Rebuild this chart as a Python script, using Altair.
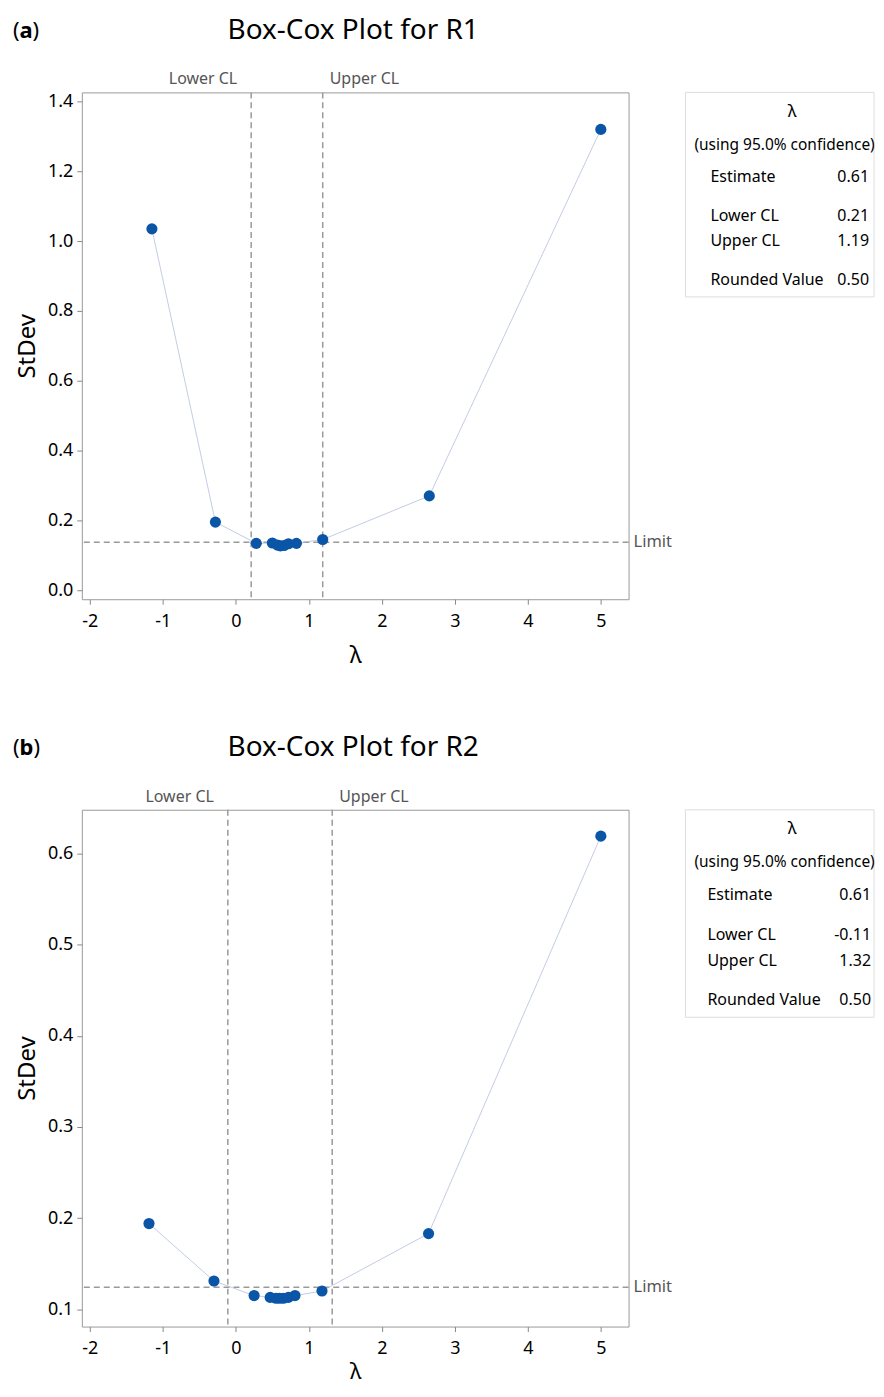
import altair as alt
import pandas as pd

# ---- data ----
lam_a = [-1.15, -0.28, 0.28, 0.50, 0.57, 0.61, 0.66, 0.72, 0.83, 1.19, 2.65, 5.0]
sd_a = [1.035, 0.195, 0.134, 0.135, 0.129, 0.127, 0.128, 0.133, 0.134, 0.145, 0.27, 1.32]
lam_b = [-1.19, -0.30, 0.25, 0.47, 0.55, 0.60, 0.65, 0.72, 0.81, 1.18, 2.64, 5.0]
sd_b = [0.194, 0.131, 0.115, 0.113, 0.112, 0.112, 0.112, 0.113, 0.115, 0.120, 0.183, 0.619]

cl_labels = ["Lower CL", "Upper CL"]
cl_a = [0.21, 1.19]
cl_b = [-0.11, 1.32]
limit_a = [0.137]
limit_b = [0.124]

legend_labels = ["Estimate", "Lower CL", "Upper CL", "Rounded Value"]
legend_a = ["0.61", "0.21", "1.19", "0.50"]
legend_b = ["0.61", "-0.11", "1.32", "0.50"]

x_ticks = [-2, -1, 0, 1, 2, 3, 4, 5]
y_ticks_a = [0.0, 0.2, 0.4, 0.6, 0.8, 1.0, 1.2, 1.4]
y_ticks_b = [0.1, 0.2, 0.3, 0.4, 0.5, 0.6]

FONT = "Noto Sans"
W = 548
GRAY = "#9a9a9a"


def txt(s, x, y, size=16, align="left", weight="normal", color="black"):
    return alt.Chart(pd.DataFrame({"t": [s]})).mark_text(
        font=FONT, fontSize=size, align=align, baseline="middle", fontWeight=weight, color=color
    ).encode(x=alt.value(x), y=alt.value(y), text="t:N")


def panel(tag, title, lam, sd, cl, limit, leg_vals, ydom, yticks, H, leg_rows, leg_box_h,
          lab_x, val_x, xt_pad, xt_size):
    df = pd.DataFrame({"lam": lam, "sd": sd})
    xs = alt.Scale(domain=[-2.11, 5.38], nice=False, zero=False)
    ys = alt.Scale(domain=ydom, nice=False, zero=False)
    X = alt.X("lam:Q", scale=xs,
              axis=alt.Axis(values=x_ticks, format="d", title="λ", titlePadding=xt_pad,
                            titleFontSize=xt_size,
                            labelExpr="replace(datum.label, '−', '-')"))
    Y = alt.Y("sd:Q", scale=ys,
              axis=alt.Axis(values=yticks, format=".1f", title="StDev", titlePadding=8))

    line = alt.Chart(df).mark_line(color="#a9b6da", strokeWidth=0.7).encode(x=X, y=Y)
    pts = alt.Chart(df).mark_point(filled=True, size=125, color="#0a55a6", opacity=1).encode(
        x="lam:Q", y="sd:Q")

    cldf = pd.DataFrame({"lam": cl, "label": cl_labels})
    vrule = alt.Chart(cldf).mark_rule(color=GRAY, strokeDash=[6, 4], strokeWidth=1.5).encode(
        x="lam:Q")
    low_t = alt.Chart(cldf).transform_filter(alt.datum.label == "Lower CL").mark_text(
        font=FONT, fontSize=16, color="#555555", baseline="middle", align="right", dx=-14).encode(
        x="lam:Q", y=alt.value(-13), text="label:N")
    up_t = alt.Chart(cldf).transform_filter(alt.datum.label == "Upper CL").mark_text(
        font=FONT, fontSize=16, color="#555555", baseline="middle", align="left", dx=7).encode(
        x="lam:Q", y=alt.value(-13), text="label:N")

    limdf = pd.DataFrame({"sd": limit, "label": ["Limit"]})
    hrule = alt.Chart(limdf).mark_rule(color=GRAY, strokeDash=[6, 4], strokeWidth=1.5).encode(
        y="sd:Q")
    htext = alt.Chart(limdf).mark_text(font=FONT, fontSize=16.5, color="#555555", align="left",
                                       baseline="middle").encode(
        x=alt.value(W + 5), y="sd:Q", text="label:N")

    ttl = txt(title, 272, -62, size=28, align="center")
    tag1 = txt("(", -69, -62, size=22)
    tag2 = txt(tag, -62.5, -62, size=22, weight="bold")
    tag3 = txt(")", -49.5 if tag == "a" else -48.5, -62, size=22)

    box = alt.Chart(pd.DataFrame({"a": [0]})).mark_rect(
        fill="white", stroke="#dddddd", strokeWidth=1).encode(
        x=alt.value(605), x2=alt.value(794), y=alt.value(0), y2=alt.value(leg_box_h))

    layers = [box, vrule, hrule, line, pts, low_t, up_t, htext, ttl, tag1, tag2, tag3]

    ly_lambda, ly_using, ly_rows = leg_rows
    layers.append(txt("λ", 712, ly_lambda, size=17, align="center"))
    layers.append(txt("(using 95.0% confidence)", 614, ly_using, size=15.5))
    for lab, val, yy in zip(legend_labels, leg_vals, ly_rows):
        layers.append(txt(lab, lab_x, yy, size=16))
        layers.append(txt(val, val_x, yy, size=16, align="right"))

    return alt.layer(*layers).properties(width=W, height=H)


pa = panel("a", "Box-Cox Plot for R1", lam_a, sd_a, cl_a, limit_a, legend_a,
           [-0.026, 1.426], y_ticks_a, 508, (20, 53, [85, 124, 149, 188]), 205, 630, 789, 14, 23)
pb = panel("b", "Box-Cox Plot for R2", lam_b, sd_b, cl_b, limit_b, legend_b,
           [0.081, 0.648], y_ticks_b, 518, (19, 52, [85, 126, 152, 191]), 208, 627, 791, 4, 22)

chart = alt.vconcat(pa, pb, spacing=65).properties(
    padding={"left": 4, "top": 6, "right": 0, "bottom": 0}
).configure(font=FONT).configure_view(
    stroke=GRAY, strokeWidth=1
).configure_axis(
    domain=False, grid=False, tickColor="#888888", tickSize=5,
    labelFont=FONT, labelFontSize=18, labelColor="black",
    titleFont=FONT, titleFontSize=24, titleFontWeight="normal", titleColor="black"
).configure_axisX(labelPadding=8).configure_axisY(labelPadding=4)

chart.save("out.html", embed_options={"renderer": "svg", "actions": False})
